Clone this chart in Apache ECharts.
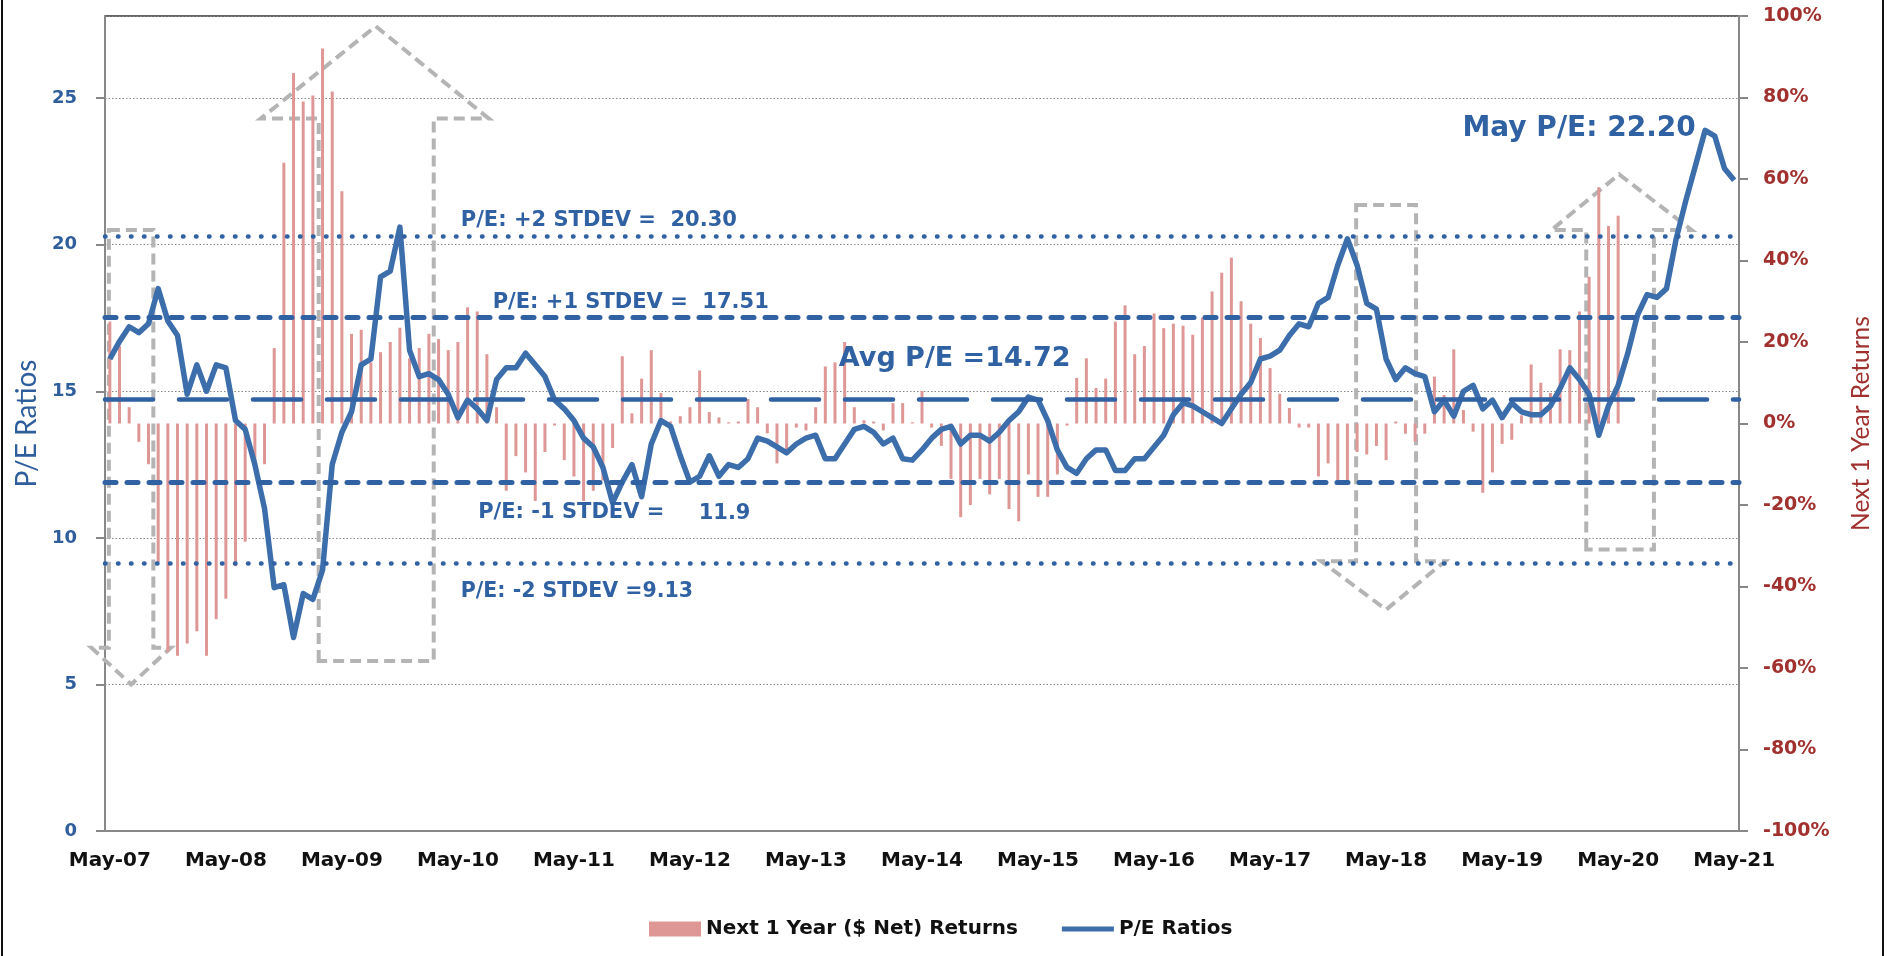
<!DOCTYPE html>
<html>
<head>
<meta charset="utf-8">
<title>P/E Ratios vs Next 1 Year Returns</title>
<script src="https://cdn.jsdelivr.net/npm/echarts@6.0.0/dist/echarts.min.js"></script>
<style>
  html, body { margin: 0; padding: 0; background: #fff; }
  #chart { width: 1887px; height: 956px; }
</style>
</head>
<body>
<div id="chart"></div>
<script>
// month labels, May-07 .. May-21
const monthNames = ['Jan', 'Feb', 'Mar', 'Apr', 'May', 'Jun', 'Jul', 'Aug', 'Sep', 'Oct', 'Nov', 'Dec']
const months = []
for (let i = 0; i < 169; i++) {
  const m = (4 + i) % 12
  const y = 7 + Math.floor((4 + i) / 12)
  months.push(monthNames[m] + '-' + String(y).padStart(2, '0'))
}

// P/E ratio, one value per month
const peRatio = [
  16.1, 16.7, 17.2, 17.0, 17.3, 18.5, 17.4, 16.9, 14.9, 15.9,
  15.0, 15.9, 15.8, 14.0, 13.7, 12.5, 11.0, 8.3, 8.4, 6.6,
  8.1, 7.9, 8.9, 12.5, 13.6, 14.3, 15.9, 16.1, 18.9, 19.1,
  20.6, 16.4, 15.5, 15.6, 15.4, 14.9, 14.1, 14.7, 14.4, 14.0,
  15.4, 15.8, 15.8, 16.3, 15.9, 15.5, 14.7, 14.4, 14.0, 13.4,
  13.1, 12.4, 11.2, 11.9, 12.5, 11.4, 13.2, 14.0, 13.8, 12.8,
  11.9, 12.1, 12.8, 12.1, 12.5, 12.4, 12.7, 13.4, 13.3, 13.1,
  12.9, 13.2, 13.4, 13.5, 12.7, 12.7, 13.2, 13.7, 13.8, 13.6,
  13.2, 13.4, 12.7, 12.65, 13.0, 13.4, 13.7, 13.8, 13.2, 13.5,
  13.5, 13.3, 13.6, 14.0, 14.3, 14.8, 14.7, 14.0, 13.0, 12.4,
  12.2, 12.7, 13.0, 13.0, 12.3, 12.3, 12.7, 12.7, 13.1, 13.5,
  14.2, 14.6, 14.5, 14.3, 14.1, 13.9, 14.4, 14.9, 15.3, 16.1,
  16.2, 16.4, 16.9, 17.3, 17.2, 18.0, 18.2, 19.3, 20.2, 19.3,
  18.0, 17.8, 16.1, 15.4, 15.8, 15.6, 15.5, 14.3, 14.7, 14.15,
  15.0, 15.2, 14.4, 14.7, 14.1, 14.6, 14.3, 14.2, 14.2, 14.5,
  15.1, 15.8, 15.4, 14.9, 13.5, 14.5, 15.2, 16.3, 17.6, 18.3,
  18.2, 18.5, 20.2, 21.5, 22.7, 23.9, 23.7, 22.6, 22.2
]

// next 1 year ($ net) returns in %, known up to May-20
const nextYearReturns = [
  25, 19, 4, -4.5, -10, -34, -56, -57, -54, -51,
  -57, -48, -43, -35, -29, -10, -10, 18.5, 64, 86,
  79, 80.5, 92, 81.5, 57, 22, 23, 15, 17.5, 20,
  23.5, 16, 18.5, 22, 20.7, 18, 20, 28.5, 27.5, 17,
  4, -16.5, -8, -12, -19, -7, -0.5, -9, -13, -19,
  -16.5, -14, -6, 16.5, 2.5, 11, 18, 7.5, 0.5, 1.8,
  4, 13, 2.8, 1.5, 0.3, 0.5, 6, 4, -2.4, -9.8,
  -7.7, -1, -1.7, 4, 14, 15, 20, 4, 0.8, 0.5,
  -1.7, 5, 5, 0.3, 8, -1, -5.5, -13.6, -23, -20,
  -13.6, -17.4, -13.6, -21, -24, -12.5, -18, -18, -12.5, -0.5,
  11.2, 16, 8.7, 11, 25, 29, 17, 19, 27, 23.4,
  24.5, 24, 21.8, 26, 32.4, 37, 40.7, 30, 24.5, 21,
  13.6, 7.3, 3.8, -1, -1, -13, -9.8, -14.7, -14.7, -7,
  -7.6, -5.5, -9, 0.5, -2.5, -4.4, -2.5, 11.5, 7, 18.2,
  3.3, -2, -17, -12, -5, -4, 2, 14.5, 10, 7.5,
  18.2, 18, 27.5, 36, 58, 48.5, 51
]

// P/E bands
const pePlus2 = 20.30
const pePlus1 = 17.51
const peAvg = 14.72
const peMinus1 = 11.9
const peMinus2 = 9.13

// left and right axis ranges
const peMax = 27.8
const retTicks = [-100, 100, 20]

const blue = '#3C6EAC'
const bandBlue = '#2F61A3'
const red = '#A0312F'
const font = 'DejaVu Sans'

// dashed grey arrows, in (month index, P/E) units
const arrows = [
  [[-0.1, 20.5], [4.5, 20.5], [4.5, 6.25], [6.3, 6.25], [2.2, 5.0], [-1.9, 6.25], [-0.1, 6.25]],
  [[21.6, 5.8], [21.6, 24.3], [15.6, 24.3], [27.5, 27.45], [39.2, 24.3], [33.5, 24.3], [33.5, 5.8]],
  [[128.9, 21.35], [135.1, 21.35], [135.1, 9.2], [138.1, 9.2], [132, 7.55], [125.3, 9.2], [128.9, 9.2]],
  [[152.7, 9.6], [152.7, 20.5], [149.1, 20.5], [156.1, 22.4], [163.6, 20.5], [159.7, 20.5], [159.7, 9.6]]
]

// text notes, anchored at left-middle
const notes = [
  { text: 'P/E: +2 STDEV =  ' + pePlus2.toFixed(2), at: [36.3, 20.82], size: 21 },
  { text: 'P/E: +1 STDEV =  ' + pePlus1.toFixed(2), at: [39.6, 18.02], size: 21 },
  { text: 'Avg P/E =' + peAvg.toFixed(2), at: [75.4, 16.1], size: 27 },
  { text: 'P/E: -1 STDEV =', at: [38.1, 10.85], size: 21 },
  { text: String(peMinus1), at: [60.9, 10.83], size: 21 },
  { text: 'P/E: -2 STDEV =' + peMinus2.toFixed(2), at: [36.3, 8.16], size: 20.5 },
  { text: 'May P/E: ' + peRatio[peRatio.length - 1].toFixed(2), at: [139.9, 23.96], size: 28 }
]

// category axis rounds values, so interpolate between two neighbours
function toPixel(api, k, v) {
  const a = api.coord([0, v])
  const b = api.coord([1, v])
  return [a[0] + k * (b[0] - a[0]), a[1]]
}

const chart = echarts.init(document.getElementById('chart'))

chart.setOption({
  animation: false,
  grid: {
    left: 105, right: 148, top: 16, bottom: 125,
    show: true, borderColor: '#333', borderWidth: 1.5
  },
  legend: {
    data: [
      { name: 'Next 1 Year ($ Net) Returns', icon: 'rect' },
      { name: 'P/E Ratios', icon: 'path://M0,0H54V5H0Z' }
    ],
    left: 644, top: 914,
    itemWidth: 52, itemHeight: 15, itemGap: 44,
    textStyle: { fontFamily: font, fontWeight: 'bold', fontSize: 20, color: '#111' }
  },
  xAxis: {
    type: 'category',
    data: months,
    boundaryGap: true,
    axisLine: { lineStyle: { color: '#888', width: 2 } },
    axisTick: { interval: 11, length: 8, lineStyle: { color: '#888', width: 2 } },
    axisLabel: {
      interval: 11, margin: 20,
      fontFamily: font, fontWeight: 'bold', fontSize: 20, color: '#111'
    }
  },
  yAxis: [
    {
      type: 'value', min: 0, max: peMax, interval: 5,
      name: 'P/E Ratios', nameLocation: 'middle', nameRotate: 90, nameGap: 63,
      nameTextStyle: { fontFamily: 'Lato', fontSize: 28, color: '#2E5E9C' },
      axisLine: { show: true, lineStyle: { color: '#888', width: 2 } },
      axisTick: { show: true, length: 9, lineStyle: { color: '#888', width: 2 } },
      axisLabel: {
        margin: 28, showMaxLabel: false,
        fontFamily: font, fontWeight: 'bold', fontSize: 18, color: '#2E5E9C'
      },
      splitLine: { lineStyle: { color: '#888', width: 1.2, type: [1.5, 2] } }
    },
    {
      type: 'value', min: retTicks[0], max: retTicks[1], interval: retTicks[2],
      name: 'Next 1 Year Returns', nameLocation: 'middle', nameRotate: 90, nameGap: 110,
      nameTextStyle: { fontFamily: 'Lato', fontSize: 24.5, color: red },
      axisLine: { show: true, lineStyle: { color: '#888', width: 2 } },
      axisTick: { show: true, length: 9, lineStyle: { color: '#888', width: 2 } },
      axisLabel: {
        margin: 24, formatter: '{value}%',
        fontFamily: font, fontWeight: 'bold', fontSize: 19, color: red
      },
      splitLine: { show: false }
    }
  ],
  series: [
    {
      name: 'Next 1 Year ($ Net) Returns',
      type: 'bar',
      yAxisIndex: 1,
      barWidth: 3,
      itemStyle: { color: '#DF9796' },
      data: months.map((m, i) => (i < nextYearReturns.length ? nextYearReturns[i] : null))
    },
    {
      name: 'arrows',
      type: 'custom',
      yAxisIndex: 0,
      silent: true,
      data: arrows.map((a, i) => [i, 0]),
      renderItem(params, api) {
        const shape = arrows[params.dataIndex]
        return {
          type: 'polygon',
          shape: { points: shape.map(p => toPixel(api, p[0], p[1])) },
          style: { fill: null, stroke: '#B4B4B4', lineWidth: 4, lineDash: [11, 6] }
        }
      }
    },
    {
      name: 'P/E Ratios',
      type: 'line',
      yAxisIndex: 0,
      showSymbol: false,
      symbol: 'none',
      lineStyle: { color: blue, width: 5.5, join: 'round' },
      itemStyle: { color: blue },
      data: peRatio,
      markLine: {
        silent: true,
        symbol: 'none',
        label: { show: false },
        data: [
          { yAxis: pePlus2, lineStyle: { color: bandBlue, width: 4.5, type: [0.5, 12.5], cap: 'round' } },
          { yAxis: pePlus1, lineStyle: { color: bandBlue, width: 5, type: [11, 11], cap: 'round' } },
          { yAxis: peAvg, lineStyle: { color: bandBlue, width: 4.5, type: [48, 26], cap: 'round' } },
          { yAxis: peMinus1, lineStyle: { color: bandBlue, width: 5, type: [11, 11], cap: 'round' } },
          { yAxis: peMinus2, lineStyle: { color: bandBlue, width: 4.5, type: [0.5, 12.5], cap: 'round' } }
        ]
      }
    },
    {
      name: 'notes',
      type: 'custom',
      yAxisIndex: 0,
      silent: true,
      z: 10,
      data: notes.map((n, i) => [i, 0]),
      renderItem(params, api) {
        const n = notes[params.dataIndex]
        const p = toPixel(api, n.at[0], n.at[1])
        return {
          type: 'text',
          x: p[0], y: p[1],
          style: {
            text: n.text,
            fill: '#2F61A3',
            fontFamily: font, fontWeight: 'bold', fontSize: n.size,
            align: 'left', verticalAlign: 'middle'
          }
        }
      }
    }
  ],
  graphic: [
    { type: 'line', shape: { x1: 2, y1: 0, x2: 2, y2: 956 }, style: { stroke: '#111', lineWidth: 2 } },
    { type: 'line', shape: { x1: 1883, y1: 0, x2: 1883, y2: 956 }, style: { stroke: '#111', lineWidth: 2 } }
  ]
})
</script>
</body>
</html>
